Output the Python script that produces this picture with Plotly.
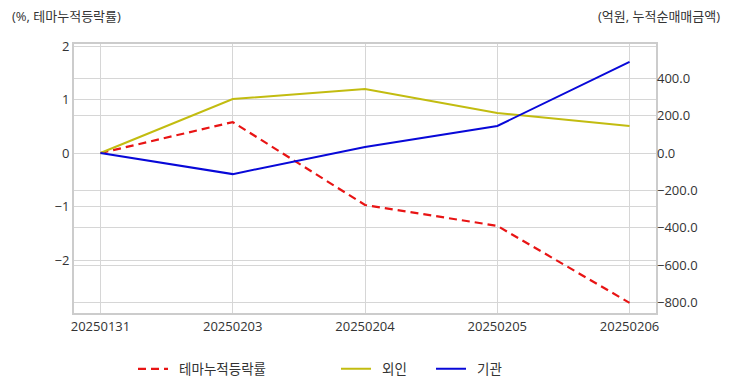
import plotly.graph_objects as go

dates = ["20250131", "20250203", "20250204", "20250205", "20250206"]
theme_rate = [0.0, 0.58, -0.97, -1.36, -2.80]
foreign = [0.0, 289.0, 343.0, 214.0, 145.0]
institution = [0.0, -113.0, 32.0, 145.0, 488.0]

FONT = "Open Sans, Noto Sans CJK KR"
PAD = "\u00a0\u00a0"
W, H = 732, 392
fig = go.Figure()
fig.add_trace(go.Scatter(x=dates, y=theme_rate, name=PAD + "테마누적등락률", mode="lines",
                         line=dict(color="#e81414", width=2.2, dash="8px,5px"), yaxis="y",
                         legend="legend", showlegend=True))
fig.add_trace(go.Scatter(x=dates, y=foreign, name=PAD + "외인", mode="lines",
                         line=dict(color="#c2bc10", width=2), yaxis="y2", legend="legend2",
                         showlegend=True))
fig.add_trace(go.Scatter(x=dates, y=institution, name=PAD + "기관", mode="lines",
                         line=dict(color="#0808d8", width=2), yaxis="y2", legend="legend3",
                         showlegend=True))

grid = "#d6d6d6"
LY = 1 - 369 / H


def leg(px):
    return dict(orientation="h", x=px / W, xanchor="left", xref="container", y=LY,
                yref="container", yanchor="middle",
                font=dict(family="Noto Sans CJK KR", size=13.5), bgcolor="rgba(0,0,0,0)")


fig.update_layout(
    width=W, height=H,
    showlegend=True,
    margin=dict(l=74, r=76, t=44, b=79, autoexpand=False),
    plot_bgcolor="white", paper_bgcolor="white",
    font=dict(family=FONT, size=13, color="#333333"),
    xaxis=dict(type="category", range=[-0.2, 4.2], showgrid=True, gridcolor=grid,
               showline=True, linecolor="#cccccc", linewidth=2, mirror=True,
               ticks="", tickfont=dict(size=13), zeroline=False, automargin=False),
    yaxis=dict(range=[-2.99, 2.04], dtick=1, tick0=0, showgrid=True, gridcolor=grid,
               showline=True, linecolor="#cccccc", linewidth=2, mirror=True,
               zeroline=False, ticks="", tickfont=dict(size=13), automargin=False),
    yaxis2=dict(range=[-857, 584], dtick=200, tick0=0, overlaying="y", side="right",
                showgrid=True, gridcolor=grid, zeroline=False, tickformat=".1f",
                ticks="", tickfont=dict(size=13), automargin=False),
    legend=leg(133),
    legend2=leg(336),
    legend3=leg(431),
    annotations=[
        dict(text="(%, 테마누적등락률)", xref="paper", yref="paper", x=-64 / 582, y=(313 - 16) / 269,
             xanchor="left", yanchor="middle", showarrow=False, font=dict(size=13)),
        dict(text="(억원, 누적순매매금액)", xref="paper", yref="paper", x=(722 - 74) / 582, y=(313 - 16) / 269,
             xanchor="right", yanchor="middle", showarrow=False, font=dict(size=13)),
    ],
)
fig.write_html("out.html", config={"displayModeBar": False},
               post_script="document.body.style.margin='0';")
